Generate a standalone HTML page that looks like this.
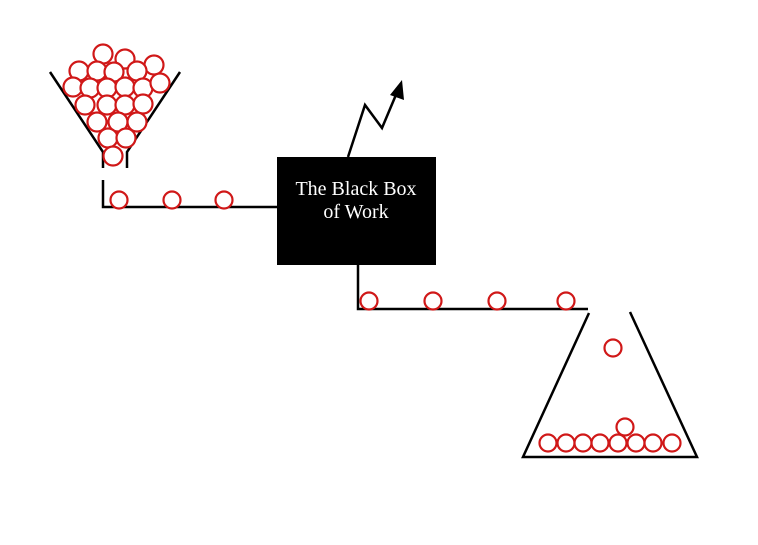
<!DOCTYPE html>
<html><head><style>html,body{margin:0;padding:0;background:#fff}svg{display:block}</style></head>
<body>
<svg width="758" height="545" viewBox="0 0 758 545" xmlns="http://www.w3.org/2000/svg">
<g stroke="#000" stroke-width="2.5" fill="none">
<polyline points="50,72 103,152 103,168"/>
<polyline points="180,72 127,152 127,168"/>
<polyline points="103,180 103,207 277,207"/>
<polyline points="358,265 358,309 588,309"/>
<polyline points="589,313 523,457 697,457 630,312"/>
<polyline points="348,157 365,105 382,128 398,90"/>
</g>
<polygon points="402,80 390,95 404,100" fill="#000"/>
<rect x="277" y="157" width="159" height="108" fill="#000"/>
<text x="356" y="195" fill="#fff" font-family="Liberation Serif, serif" font-size="20" text-anchor="middle">The Black Box</text>
<text x="356" y="218" fill="#fff" font-family="Liberation Serif, serif" font-size="20" text-anchor="middle">of Work</text>
<g stroke="#d01818" stroke-width="2.2" fill="#fff">
<circle cx="103" cy="54" r="9.5"/><circle cx="125" cy="59" r="9.5"/><circle cx="154" cy="65" r="9.5"/>
<circle cx="79" cy="71" r="9.5"/><circle cx="97" cy="71" r="9.5"/><circle cx="114" cy="72" r="9.5"/><circle cx="137" cy="71" r="9.5"/>
<circle cx="73" cy="87" r="9.5"/><circle cx="90" cy="88" r="9.5"/><circle cx="107" cy="88" r="9.5"/><circle cx="125" cy="87" r="9.5"/><circle cx="143" cy="88" r="9.5"/><circle cx="160" cy="83" r="9.5"/>
<circle cx="85" cy="105" r="9.5"/><circle cx="107" cy="105" r="9.5"/><circle cx="125" cy="105" r="9.5"/><circle cx="143" cy="104" r="9.5"/>
<circle cx="97" cy="122" r="9.5"/><circle cx="118" cy="122" r="9.5"/><circle cx="137" cy="122" r="9.5"/>
<circle cx="108" cy="138" r="9.5"/><circle cx="126" cy="138" r="9.5"/><circle cx="113" cy="156" r="9.5"/>
<circle cx="119" cy="200" r="8.5"/><circle cx="172" cy="200" r="8.5"/><circle cx="224" cy="200" r="8.5"/>
<circle cx="369" cy="301" r="8.5"/><circle cx="433" cy="301" r="8.5"/><circle cx="497" cy="301" r="8.5"/><circle cx="566" cy="301" r="8.5"/>
<circle cx="613" cy="348" r="8.5"/>
<circle cx="548" cy="443" r="8.5"/><circle cx="566" cy="443" r="8.5"/><circle cx="583" cy="443" r="8.5"/><circle cx="600" cy="443" r="8.5"/><circle cx="618" cy="443" r="8.5"/><circle cx="636" cy="443" r="8.5"/><circle cx="653" cy="443" r="8.5"/><circle cx="672" cy="443" r="8.5"/>
<circle cx="625" cy="427" r="8.5"/>
</g>
</svg>
</body></html>
